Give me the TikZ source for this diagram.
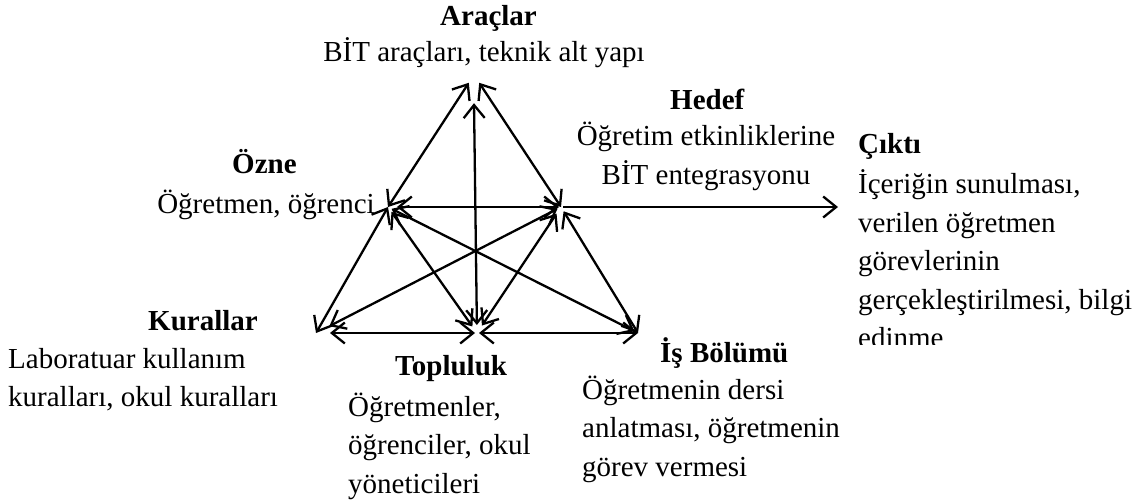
\documentclass[tikz,border=0pt]{standalone}
\usepackage{fontspec}
\setmainfont{Liberation Serif}
\usetikzlibrary{arrows.meta}
\newcommand\labelsize{\fontsize{29}{38.5}\selectfont}
\tikzset{
  link/.style={<->, line width=2.3pt},
  ttl/.style={font=\labelsize\bfseries, anchor=base west, inner sep=0pt},
  txt/.style={font=\labelsize, align=left, anchor=base west, inner sep=0pt},
}
\begin{document}
\begin{tikzpicture}[x=1pt, y=-1pt, >={Straight Barb[length=13pt,width=21pt]}]
\useasboundingbox (0,0) rectangle (1139,500);
% corners of the triangle
\node[inner sep=0pt, minimum width=10pt, minimum height=20pt] (tool) at (474,93){};
\coordinate (subj) at (388,207);
\coordinate (obj) at (561,207);
\coordinate (rules) at (316,333);
\coordinate (comm) at (477,333);
\coordinate (div) at (638,333);
\coordinate (out) at (838,207);
% labels (base of a multi-line node sits on its last line)
\node[ttl] (toolT) at (440,26){Araçlar};
\node[txt, anchor=base] (toolB) at (484,62){BİT araçları, teknik alt yapı};
\node[ttl] (objT) at (670,110){Hedef};
\node[txt, align=center, anchor=base] (objB) at (706,184){Öğretim etkinliklerine\\BİT entegrasyonu};
\node[ttl] (subjT) at (232,173){Özne};
\node[txt, anchor=base] (subjB) at (266,213){Öğretmen, öğrenci};
\node[ttl] (rulesT) at (148,330){Kurallar};
\node[txt] (rulesB) at (8,406.5){Laboratuar kullanım\\kuralları, okul kuralları};
\node[ttl] (commT) at (395,375){Topluluk};
\node[txt] (commB) at (348,493){Öğretmenler,\\öğrenciler, okul\\yöneticileri};
\node[ttl] (divT) at (660,362){İş Bölümü};
\node[txt] (divB) at (582,476){Öğretmenin dersi\\anlatması, öğretmenin\\görev vermesi};
\node[ttl] (outT) at (858,153){Çıktı};
\begin{scope}
\clip (850,160) rectangle (1139,344);
\node[txt] (outB) at (858,347.5){İçeriğin sunulması,\\verilen öğretmen\\görevlerinin\\gerçekleştirilmesi, bilgi\\edinme};
\end{scope}
% links
\draw[link](subj) -- (tool.north west);
\draw[link](tool.north east) -- (obj);
\draw[link, shorten <=9pt, shorten >=2pt](subj) -- (obj);
\draw[link, shorten <=8pt](comm) -- (tool.south);
\draw[link](subj) -- (rules);
\draw[link, shorten <=6pt, shorten >=8pt](subj) -- (comm);
\draw[link, shorten <=4pt, shorten >=4pt](subj) -- (div);
\draw[link, shorten <=4pt, shorten >=15pt](obj) -- (rules);
\draw[link, shorten <=8pt, shorten >=9pt](obj) -- (comm);
\draw[link, shorten <=5pt](obj) -- (div);
\draw[link, shorten <=14pt, shorten >=2pt](rules) -- (comm);
\draw[link, shorten <=2pt](comm) -- (div);
\draw[->, line width=2.3pt, shorten <=2pt](obj) -- (out);
\end{tikzpicture}
\end{document}
